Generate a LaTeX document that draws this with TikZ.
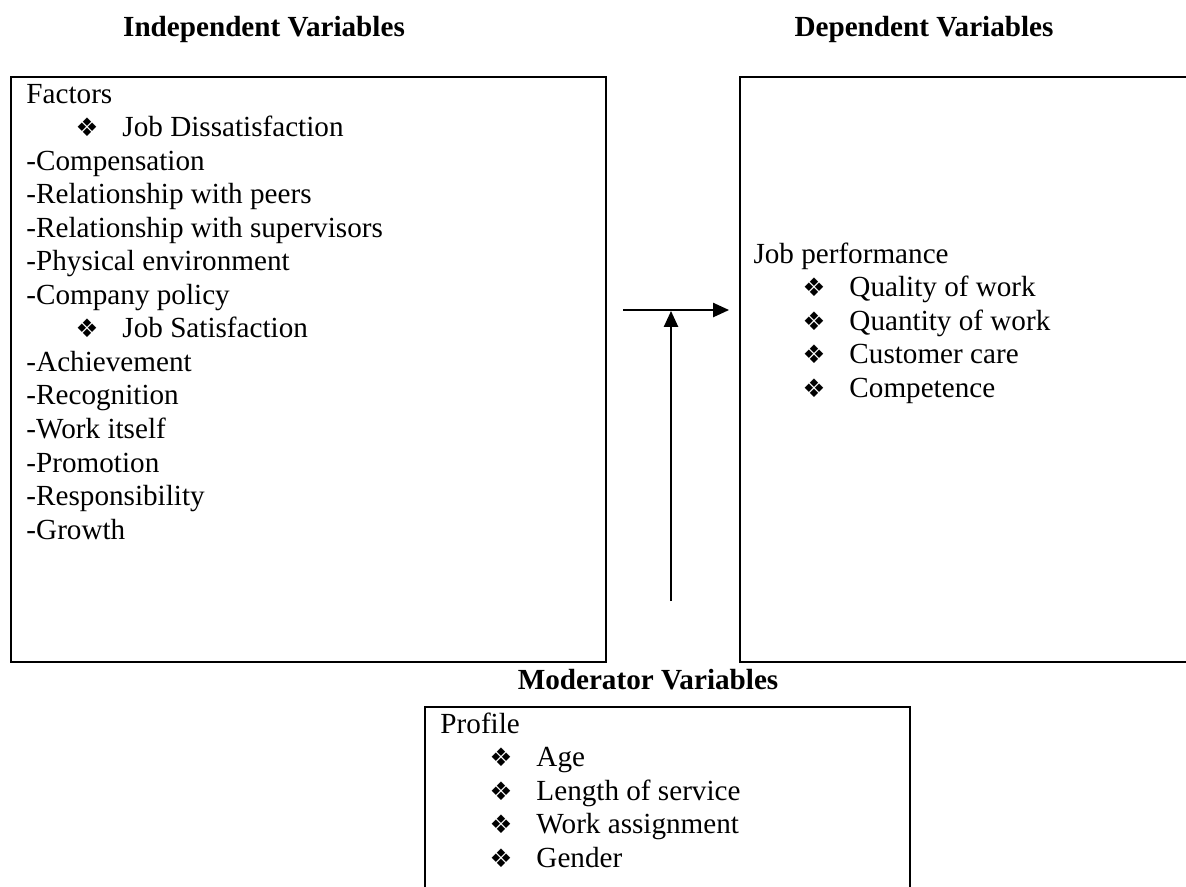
\documentclass[tikz,border=0pt]{standalone}
\usepackage{fontspec}
\setmainfont{Liberation Serif}
\newfontfamily\dingfont{DejaVu Sans}
\usetikzlibrary{arrows.meta}

\newcommand{\bul}[1]{\hspace*{20.2pt}\makebox[19.3pt][l]{\dingfont\fontsize{10.5}{12}\selectfont ❖}#1}

\tikzset{
    varbox/.style={draw=black, line width=1pt},
    vartitle/.style={font=\bfseries\fontsize{12}{13.8}\selectfont, anchor=base, inner sep=0pt},
    varline/.style={font=\fontsize{12}{13.8}\selectfont, anchor=base west, inner sep=0pt},
    varlink/.style={-{Triangle[length=6.5pt, width=5.8pt]}, line width=0.7pt}
}

\begin{document}
\begin{tikzpicture}[x=0.4115pt, y=-0.4115pt]
    \useasboundingbox (0,0) rectangle (1186,886);

    \node[vartitle] (ivtitle) at (264,36) {Independent Variables};

    \node[vartitle] (dvtitle) at (924,36) {Dependent Variables};

    \node[vartitle] (mvtitle) at (648,689) {Moderator Variables};

    \draw[varbox] (11,77) rectangle (606,662);

    \draw[varbox] (740,77) rectangle (1200,662);

    \draw[varbox] (425,707) rectangle (910,900);

    \foreach \t [count=\i from 0] in {Factors, \bul{Job Dissatisfaction}, -Compensation,
        -Relationship with peers, -Relationship with supervisors, -Physical environment,
        -Company policy, \bul{Job Satisfaction}, -Achievement, -Recognition, -Work itself,
        -Promotion, -Responsibility, -Growth}
        \node[varline] (iv\i) at (26,{103+33.55*\i}) {\t};

    \foreach \t [count=\i from 0] in {Job performance, \bul{Quality of work},
        \bul{Quantity of work}, \bul{Customer care}, \bul{Competence}}
        \node[varline] (dv\i) at (753,{263+33.55*\i}) {\t};

    \foreach \t [count=\i from 0] in {Profile, \bul{Age}, \bul{Length of service},
        \bul{Work assignment}, \bul{Gender}}
        \node[varline] (mv\i) at (440,{733+33.55*\i}) {\t};

    \coordinate (hstart) at (623,310);
    \coordinate (hend) at (729,310);
    \coordinate (vstart) at (671,601);
    \coordinate (vend) at (671,311);

    \draw[varlink] (hstart) -- (hend);
    \draw[varlink] (vstart) -- (vend);

\end{tikzpicture}
\end{document}
